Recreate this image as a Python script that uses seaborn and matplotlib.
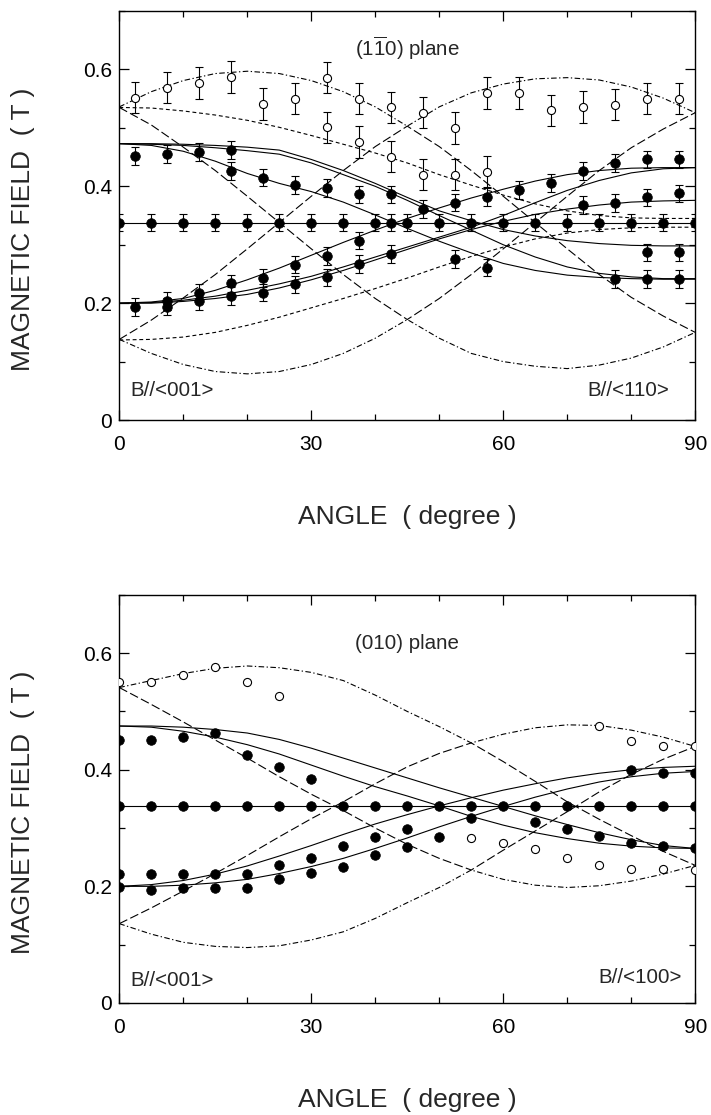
import numpy as np
import pandas as pd
import seaborn as sns
import matplotlib
matplotlib.use("Agg")
import matplotlib.pyplot as plt
from matplotlib.ticker import MultipleLocator, FuncFormatter

# ---------------------------------------------------------------
# Angles at which the calculated resonance curves are tabulated
ANG = list(range(0, 91, 5))

# ---------------- (1-10) plane : calculated curves ----------------
t_flat = [0.338] * 19
t_sol_d1 = [0.473, 0.470, 0.460, 0.443, 0.422, 0.405, 0.391, 0.373, 0.351, 0.328,
            0.306, 0.286, 0.268, 0.256, 0.248, 0.244, 0.242, 0.241, 0.241]
t_sol_d2 = [0.473, 0.473, 0.472, 0.470, 0.467, 0.462, 0.446, 0.427, 0.405, 0.381,
            0.358, 0.341, 0.326, 0.315, 0.307, 0.302, 0.299, 0.298, 0.298]
t_sol_d3 = [0.473, 0.472, 0.470, 0.466, 0.461, 0.455, 0.440, 0.420, 0.400, 0.376,
            0.350, 0.325, 0.300, 0.279, 0.262, 0.251, 0.245, 0.242, 0.242]
t_sol_a1 = [0.200, 0.202, 0.208, 0.222, 0.240, 0.260, 0.282, 0.304, 0.325, 0.345,
            0.363, 0.380, 0.395, 0.409, 0.420, 0.427, 0.431, 0.432, 0.432]
t_sol_a2 = [0.200, 0.201, 0.205, 0.212, 0.222, 0.233, 0.246, 0.262, 0.279, 0.296,
            0.313, 0.330, 0.350, 0.372, 0.393, 0.410, 0.423, 0.430, 0.432]
t_sol_a3 = [0.200, 0.200, 0.203, 0.208, 0.215, 0.226, 0.240, 0.256, 0.274, 0.292,
            0.310, 0.326, 0.340, 0.352, 0.361, 0.368, 0.373, 0.375, 0.376]
# outer branches: upper / lower envelopes (dash-dot) and the V / inverted-V (dashed)
t_env_hi = [0.536, 0.562, 0.581, 0.593, 0.597, 0.593, 0.581, 0.562, 0.536, 0.503,
            0.536, 0.560, 0.575, 0.584, 0.586, 0.582, 0.570, 0.551, 0.526]
t_env_lo = [0.138, 0.114, 0.095, 0.083, 0.079, 0.083, 0.095, 0.114, 0.140, 0.172,
            0.140, 0.114, 0.100, 0.092, 0.088, 0.094, 0.106, 0.125, 0.150]
t_vee = [0.535, 0.505, 0.467, 0.427, 0.383, 0.338, 0.293, 0.249, 0.208, 0.172,
         0.208, 0.249, 0.293, 0.338, 0.383, 0.427, 0.466, 0.498, 0.526]
t_hat = [0.138, 0.171, 0.209, 0.249, 0.293, 0.338, 0.383, 0.427, 0.468, 0.503,
         0.468, 0.427, 0.383, 0.338, 0.293, 0.249, 0.210, 0.178, 0.150]
t_sd_dn = [0.535, 0.534, 0.529, 0.522, 0.513, 0.501, 0.487, 0.472, 0.457, 0.440,
           0.420, 0.402, 0.385, 0.370, 0.358, 0.350, 0.346, 0.345, 0.345]
t_sd_up = [0.137, 0.138, 0.142, 0.150, 0.162, 0.176, 0.192, 0.208, 0.225, 0.243,
           0.262, 0.280, 0.296, 0.310, 0.320, 0.326, 0.329, 0.330, 0.330]

# ---------------- (1-10) plane : measured fields ----------------
t_fill_ang = ([0, 5, 10, 15, 20, 25, 30, 35, 40, 42.5, 45, 50, 55, 60, 65, 70, 75, 80, 85, 90]
              + [2.5, 7.5, 12.5, 17.5, 17.5, 22.5, 27.5, 32.5, 37.5, 42.5]
              + [47.5, 52.5, 57.5, 62.5, 67.5, 72.5, 77.5, 82.5, 87.5]
              + [72.5, 77.5, 82.5, 87.5, 82.5, 87.5, 77.5, 82.5, 87.5, 52.5, 57.5]
              + [2.5, 7.5, 7.5, 12.5, 12.5, 17.5, 17.5, 22.5, 22.5, 27.5, 27.5,
                 32.5, 32.5, 37.5, 37.5, 42.5])
t_fill_b = ([0.338] * 20
            + [0.452, 0.455, 0.459, 0.462, 0.426, 0.415, 0.402, 0.397, 0.386, 0.386]
            + [0.361, 0.372, 0.382, 0.394, 0.406, 0.426, 0.440, 0.446, 0.446]
            + [0.368, 0.371, 0.381, 0.388, 0.287, 0.287, 0.241, 0.241, 0.241, 0.276, 0.261]
            + [0.193, 0.204, 0.194, 0.218, 0.204, 0.234, 0.212, 0.243, 0.218, 0.266, 0.232,
               0.281, 0.244, 0.307, 0.267, 0.284])
t_open_ang = [2.5, 7.5, 12.5, 17.5, 22.5, 27.5, 32.5, 37.5, 42.5, 47.5, 52.5, 57.5,
              62.5, 67.5, 72.5, 77.5, 82.5, 87.5,
              32.5, 37.5, 42.5, 47.5, 52.5, 57.5]
t_open_b = [0.552, 0.569, 0.577, 0.587, 0.541, 0.550, 0.586, 0.550, 0.535, 0.526, 0.500, 0.560,
            0.560, 0.530, 0.536, 0.540, 0.550, 0.550,
            0.501, 0.476, 0.451, 0.420, 0.420, 0.425]
t_fill_err = 0.015
t_open_err = 0.027

# ---------------- (010) plane : calculated curves ----------------
b_flat = [0.337] * 19
b_sol_d1 = [0.475, 0.475, 0.473, 0.469, 0.463, 0.452, 0.437, 0.420, 0.403, 0.386,
            0.369, 0.353, 0.337, 0.321, 0.306, 0.292, 0.280, 0.270, 0.265]
b_sol_d2 = [0.475, 0.473, 0.466, 0.456, 0.443, 0.427, 0.408, 0.389, 0.371, 0.355,
            0.338, 0.320, 0.305, 0.292, 0.282, 0.274, 0.269, 0.266, 0.265]
b_sol_a1 = [0.200, 0.203, 0.210, 0.221, 0.235, 0.252, 0.270, 0.289, 0.307, 0.323,
            0.338, 0.352, 0.365, 0.376, 0.386, 0.394, 0.400, 0.404, 0.406]
b_sol_a2 = [0.200, 0.200, 0.202, 0.206, 0.212, 0.222, 0.234, 0.248, 0.265, 0.283,
            0.302, 0.320, 0.337, 0.353, 0.367, 0.379, 0.388, 0.394, 0.397]
b_env_hi = [0.541, 0.553, 0.565, 0.574, 0.578, 0.575, 0.567, 0.553, 0.528, 0.500,
            0.474, 0.446, 0.461, 0.472, 0.477, 0.476, 0.468, 0.456, 0.440]
b_env_lo = [0.136, 0.118, 0.104, 0.097, 0.095, 0.098, 0.108, 0.122, 0.145, 0.172,
            0.198, 0.228, 0.212, 0.202, 0.198, 0.201, 0.209, 0.221, 0.236]
b_vee = [0.541, 0.512, 0.482, 0.451, 0.420, 0.388, 0.358, 0.330, 0.300, 0.272,
         0.248, 0.228, 0.262, 0.295, 0.328, 0.362, 0.392, 0.418, 0.440]
b_hat = [0.136, 0.163, 0.192, 0.222, 0.253, 0.285, 0.316, 0.345, 0.376, 0.405,
         0.428, 0.446, 0.414, 0.380, 0.345, 0.315, 0.287, 0.260, 0.236]

# ---------------- (010) plane : measured fields ----------------
b_fill_ang = (list(range(0, 91, 5))
              + [0, 5, 10, 15, 20, 25, 30]
              + [0, 5, 10, 15, 20, 25, 30, 35, 40]
              + [0, 5, 10, 15, 20, 25, 30, 35, 40]
              + [45, 45, 50, 55, 65, 70, 75, 80, 85, 90]
              + [80, 85, 90])
b_fill_b = ([0.337] * 19
            + [0.451, 0.451, 0.457, 0.463, 0.426, 0.405, 0.384]
            + [0.221, 0.221, 0.221, 0.221, 0.222, 0.237, 0.249, 0.270, 0.284]
            + [0.199, 0.194, 0.198, 0.198, 0.198, 0.212, 0.223, 0.234, 0.253]
            + [0.298, 0.268, 0.285, 0.318, 0.311, 0.299, 0.286, 0.275, 0.269, 0.265]
            + [0.399, 0.394, 0.394])
b_open_ang = [0, 5, 10, 15, 20, 25, 55, 60, 65, 70, 75, 80, 85, 90, 75, 80, 85, 90]
b_open_b = [0.551, 0.551, 0.562, 0.576, 0.551, 0.526, 0.283, 0.274, 0.264, 0.249,
            0.236, 0.229, 0.229, 0.228, 0.475, 0.450, 0.440, 0.440]

# ---------------------------------------------------------------
sns.set_theme(style="ticks")
plt.rcParams["font.family"] = ["Liberation Sans", "DejaVu Sans"]
plt.rcParams["mathtext.fontset"] = "custom"
plt.rcParams["mathtext.rm"] = "Liberation Sans"
plt.rcParams["mathtext.it"] = "Liberation Sans"

LW = 0.8
DASHDOT = (0, (5, 2.2, 1.2, 2.2))
LONGDASH = (0, (8, 3))
SHORTDASH = (0, (3.5, 2.5))
NOTE_FS = 14.8

fig = plt.figure(figsize=(7.11, 11.15), dpi=100)
ax_top = fig.add_axes([0.1678, 0.6233, 0.8100, 0.3668])
ax_bot = fig.add_axes([0.1678, 0.1005, 0.8100, 0.3660])


def curve(ax, vals, ls):
    sns.lineplot(x=ANG, y=vals, ax=ax, color="black", linewidth=LW,
                 linestyle=ls, legend=False)


def style_axes(ax):
    ax.set_xlim(0, 90)
    ax.set_ylim(0, 0.7)
    ax.xaxis.set_major_locator(MultipleLocator(30))
    ax.xaxis.set_minor_locator(MultipleLocator(10))
    ax.yaxis.set_major_locator(MultipleLocator(0.2))
    ax.yaxis.set_minor_locator(MultipleLocator(0.1))
    ax.yaxis.set_major_formatter(FuncFormatter(lambda v, p: "0" if abs(v) < 1e-9 else f"{v:.1f}"))
    ax.tick_params(which="both", direction="in", top=True, right=True,
                   colors="black", width=0.9)
    ax.tick_params(which="major", length=7, labelsize=15)
    ax.tick_params(axis="x", which="major", pad=11)
    ax.tick_params(axis="y", which="major", pad=5)
    ax.tick_params(which="minor", length=4)
    for s in ax.spines.values():
        s.set_linewidth(1.0)
        s.set_color("black")
    ax.set_xlabel("ANGLE  ( degree )", fontsize=19, va="center")
    ax.set_ylabel("MAGNETIC FIELD  ( T )", fontsize=19, va="center")
    ax.xaxis.set_label_coords(0.5, -0.237)
    ax.yaxis.set_label_coords(-0.167, 0.466)


def points(ax, ang, b, filled, err=None):
    if err is not None:
        ax.errorbar(ang, b, yerr=err, fmt="none", ecolor="black",
                    elinewidth=0.8, capsize=3.2, capthick=0.8, zorder=3)
    if filled:
        sns.scatterplot(x=ang, y=b, ax=ax, color="black", s=48, marker="o",
                        edgecolor="black", linewidth=0.5, zorder=4, legend=False)
    else:
        sns.scatterplot(x=ang, y=b, ax=ax, facecolor="white", s=34, marker="o",
                        edgecolor="black", linewidth=0.8, zorder=4, legend=False)


# ---- (1-10) plane ----
ax = ax_top
curve(ax, t_flat, "-")
for v in (t_sol_d1, t_sol_d2, t_sol_d3, t_sol_a1, t_sol_a2, t_sol_a3):
    curve(ax, v, "-")
for v in (t_env_hi, t_env_lo):
    curve(ax, v, DASHDOT)
for v in (t_vee, t_hat):
    curve(ax, v, LONGDASH)
for v in (t_sd_dn, t_sd_up):
    curve(ax, v, SHORTDASH)
points(ax, t_fill_ang, t_fill_b, True, t_fill_err)
points(ax, t_open_ang, t_open_b, False, t_open_err)
style_axes(ax)
ax.text(45, 0.636, r"(1$\overline{1}$0) plane", fontsize=NOTE_FS, ha="center", va="center")
ax.text(1.7, 0.05, "B//<001>", fontsize=NOTE_FS, ha="left", va="center")
ax.text(86.0, 0.05, "B//<110>", fontsize=NOTE_FS, ha="right", va="center")

# ---- (010) plane ----
ax = ax_bot
curve(ax, b_flat, "-")
for v in (b_sol_d1, b_sol_d2, b_sol_a1, b_sol_a2):
    curve(ax, v, "-")
for v in (b_env_hi, b_env_lo):
    curve(ax, v, DASHDOT)
for v in (b_vee, b_hat):
    curve(ax, v, LONGDASH)
points(ax, b_fill_ang, b_fill_b, True)
points(ax, b_open_ang, b_open_b, False)
style_axes(ax)
ax.text(45, 0.616, "(010) plane", fontsize=NOTE_FS, ha="center", va="center")
ax.text(1.7, 0.038, "B//<001>", fontsize=NOTE_FS, ha="left", va="center")
ax.text(87.9, 0.044, "B//<100>", fontsize=NOTE_FS, ha="right", va="center")

fig.savefig("out.png", dpi=100, facecolor="white")
